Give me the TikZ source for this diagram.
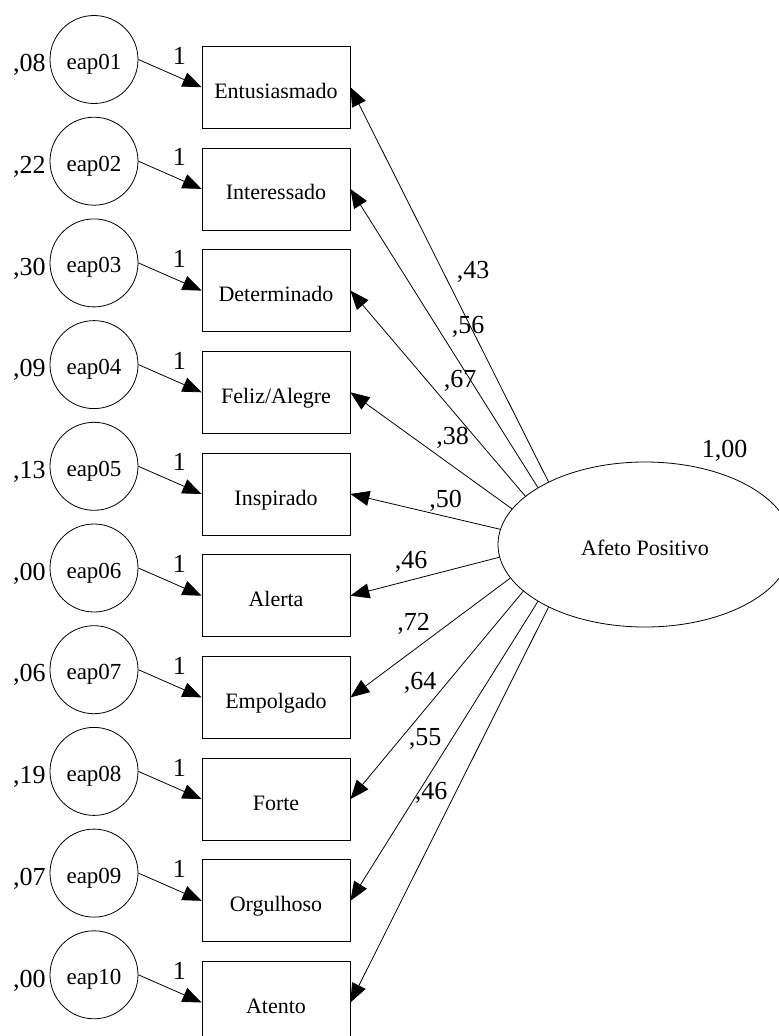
\documentclass[tikz,border=0pt]{standalone}
\usepackage{fontspec}
\setmainfont{Liberation Serif}
\usetikzlibrary{arrows.meta,shapes.geometric}

\begin{document}
\begin{tikzpicture}[x=1pt,y=1pt,yscale=-1,
  line width=0.8pt,
  err/.style={draw,circle,minimum size=88pt,inner sep=0pt,font=\fontsize{23}{26}\selectfont,text height=20pt,text depth=0pt},
  item/.style={draw,rectangle,minimum width=148pt,minimum height=82pt,inner sep=0pt,font=\fontsize{22}{26}\selectfont,text height=22pt,text depth=0pt},
  fator/.style={draw,ellipse,minimum width=294pt,minimum height=165pt,inner sep=0pt,font=\fontsize{22}{26}\selectfont,text height=21pt,text depth=0pt},
  num/.style={inner sep=0pt,font=\fontsize{26}{30}\selectfont},
  seta/.style={-{Triangle[length=19pt,width=15pt]}},
  um/.style={pos=0.65,above=12pt,inner sep=1pt,font=\fontsize{26}{30}\selectfont}
  ]
\useasboundingbox (0,0) rectangle (779,1036);

%Shape: Ellipse
\node[fator] (afeto) at (645,544.5) {Afeto Positivo};

%Shape: Circle
\node[err] (e01) at (94,59.5) {eap01};
\node[err] (e02) at (94,161.2) {eap02};
\node[err] (e03) at (94,262.9) {eap03};
\node[err] (e04) at (94,364.6) {eap04};
\node[err] (e05) at (94,466.3) {eap05};
\node[err] (e06) at (94,568) {eap06};
\node[err] (e07) at (94,669.7) {eap07};
\node[err] (e08) at (94,771.4) {eap08};
\node[err] (e09) at (94,873.1) {eap09};
\node[err] (e10) at (94,974.8) {eap10};

%Shape: Rectangle
\node[item] (entusiasmado) at (276,87.2) {Entusiasmado};
\node[item] (interessado) at (276,188.9) {Interessado};
\node[item] (determinado) at (276,290.6) {Determinado};
\node[item] (feliz) at (276,392.3) {Feliz/Alegre};
\node[item] (inspirado) at (276,494) {Inspirado};
\node[item] (alerta) at (276,595.7) {Alerta};
\node[item] (empolgado) at (276,697.4) {Empolgado};
\node[item] (forte) at (276,799.1) {Forte};
\node[item] (orgulhoso) at (276,900.8) {Orgulhoso};
\node[item] (atento) at (276,1002.5) {Atento};

%Straight Lines: erros
\draw[seta] (e01.east) -- (entusiasmado.west) node[um] {1};
\draw[seta] (e02.east) -- (interessado.west) node[um] {1};
\draw[seta] (e03.east) -- (determinado.west) node[um] {1};
\draw[seta] (e04.east) -- (feliz.west) node[um] {1};
\draw[seta] (e05.east) -- (inspirado.west) node[um] {1};
\draw[seta] (e06.east) -- (alerta.west) node[um] {1};
\draw[seta] (e07.east) -- (empolgado.west) node[um] {1};
\draw[seta] (e08.east) -- (forte.west) node[um] {1};
\draw[seta] (e09.east) -- (orgulhoso.west) node[um] {1};
\draw[seta] (e10.east) -- (atento.west) node[um] {1};

%Straight Lines: cargas
\draw[seta] (afeto.147) -- (entusiasmado.east);
\draw[seta] (afeto.152) -- (interessado.east);
\draw[seta] (afeto.158.3) -- (determinado.east);
\draw[seta] (afeto.165.6) -- (feliz.east);
\draw[seta] (afeto.174.9) -- (inspirado.east);
\draw[seta] (afeto.185.1) -- (alerta.east);
\draw[seta] (afeto.194.4) -- (empolgado.east);
\draw[seta] (afeto.201.7) -- (forte.east);
\draw[seta] (afeto.208) -- (orgulhoso.east);
\draw[seta] (afeto.213) -- (atento.east);

% Text Node: variancias
\node[num,anchor=base east] (v01) at (46,71.7) {,08};
\node[num,anchor=base east] (v02) at (46,173.4) {,22};
\node[num,anchor=base east] (v03) at (46,275.1) {,30};
\node[num,anchor=base east] (v04) at (46,376.8) {,09};
\node[num,anchor=base east] (v05) at (46,478.5) {,13};
\node[num,anchor=base east] (v06) at (46,580.2) {,00};
\node[num,anchor=base east] (v07) at (46,681.9) {,06};
\node[num,anchor=base east] (v08) at (46,783.6) {,19};
\node[num,anchor=base east] (v09) at (46,885.3) {,07};
\node[num,anchor=base east] (v10) at (46,987) {,00};

% Text Node: cargas
\node[num,anchor=base] (c01) at (473,278) {,43};
\node[num,anchor=base] (c02) at (468,333) {,56};
\node[num,anchor=base] (c03) at (460,387) {,67};
\node[num,anchor=base] (c04) at (452.5,444) {,38};
\node[num,anchor=base] (c05) at (445.5,507) {,50};
\node[num,anchor=base] (c06) at (411,568) {,46};
\node[num,anchor=base] (c07) at (413.5,630) {,72};
\node[num,anchor=base] (c08) at (420,689) {,64};
\node[num,anchor=base] (c09) at (425,745) {,55};
\node[num,anchor=base] (c10) at (431,799) {,46};

% Text Node
\node[num,anchor=base] (var) at (724.5,457) {1,00};

\end{tikzpicture}
\end{document}
